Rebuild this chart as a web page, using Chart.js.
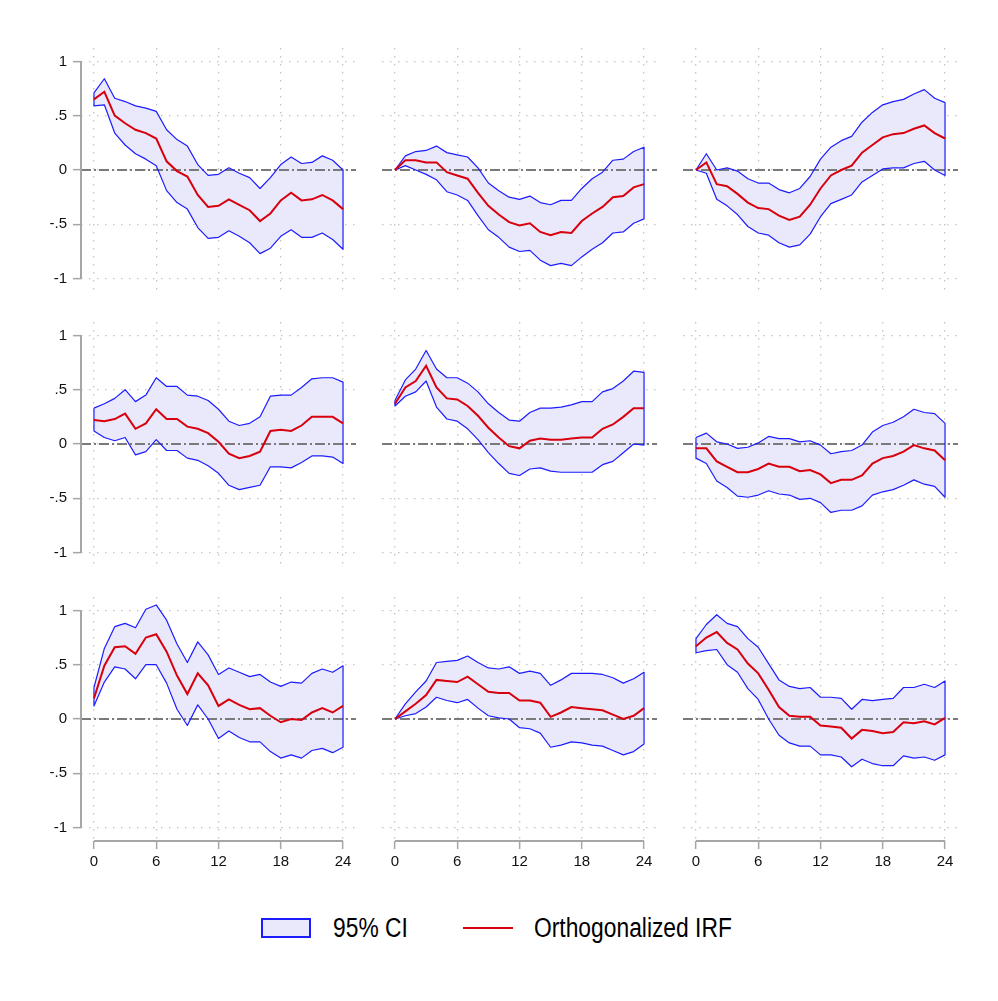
<!DOCTYPE html>
<html><head><meta charset="utf-8">
<script src="https://cdn.jsdelivr.net/npm/chart.js@4.4.1/dist/chart.umd.min.js"></script>
<style>
html,body{margin:0;padding:0;background:#fff;}
body{width:998px;height:1001px;position:relative;overflow:hidden;}
canvas{position:absolute;}
.leg{position:absolute;font-family:'Liberation Sans Narrow','Arial Narrow','Liberation Sans',Arial,sans-serif;font-size:27px;color:#000;line-height:30px;white-space:nowrap;transform:scaleX(0.845);transform-origin:0 50%;}
</style></head><body>
<div id="wrap"></div>
<div style="position:absolute;left:261px;top:918px;width:50px;height:20px;box-sizing:border-box;border:2px solid #1c1cff;background:#e9e9fb;"></div>
<div class="leg" style="left:333px;top:913px;">95% CI</div>
<div style="position:absolute;left:463px;top:927px;width:50px;height:2px;background:#d8000c;"></div>
<div class="leg" style="left:534px;top:913px;">Orthogonalized IRF</div>
<script>
const steps = [0,1,2,3,4,5,6,7,8,9,10,11,12,13,14,15,16,17,18,19,20,21,22,23,24];
const yTicks = [-1,-0.5,0,0.5,1];
const yTickLabels = ['-1','-.5','0','.5','1'];
const xTicks = [0,6,12,18,24];
const xTickLabels = ['0','6','12','18','24'];

// row 1
const irf11 = [0.65,0.72,0.50,0.43,0.37,0.34,0.29,0.08,-0.01,-0.06,-0.23,-0.34,-0.33,-0.27,-0.32,-0.37,-0.47,-0.40,-0.28,-0.21,-0.28,-0.27,-0.23,-0.28,-0.36];
const hi11 = [0.71,0.84,0.66,0.63,0.59,0.57,0.54,0.37,0.28,0.22,0.05,-0.05,-0.04,0.02,-0.03,-0.07,-0.17,-0.07,0.05,0.12,0.06,0.07,0.13,0.09,0.00];
const lo11 = [0.59,0.60,0.34,0.23,0.15,0.10,0.04,-0.19,-0.30,-0.36,-0.53,-0.63,-0.62,-0.56,-0.61,-0.67,-0.77,-0.72,-0.61,-0.55,-0.62,-0.62,-0.58,-0.64,-0.73];

const irf12 = [0,0.09,0.09,0.07,0.07,-0.02,-0.05,-0.08,-0.21,-0.33,-0.41,-0.48,-0.51,-0.49,-0.57,-0.60,-0.57,-0.58,-0.47,-0.40,-0.34,-0.25,-0.24,-0.16,-0.13];
const hi12 = [0,0.13,0.17,0.18,0.22,0.16,0.14,0.12,0.02,-0.12,-0.19,-0.25,-0.27,-0.24,-0.30,-0.32,-0.28,-0.28,-0.17,-0.08,-0.02,0.09,0.10,0.17,0.21];
const lo12 = [0,0.04,0.00,-0.04,-0.09,-0.20,-0.23,-0.28,-0.42,-0.55,-0.62,-0.71,-0.75,-0.74,-0.83,-0.88,-0.86,-0.88,-0.80,-0.73,-0.67,-0.58,-0.57,-0.49,-0.45];

const irf13 = [0,0.07,-0.13,-0.15,-0.22,-0.30,-0.35,-0.36,-0.42,-0.46,-0.43,-0.32,-0.17,-0.05,0.00,0.04,0.16,0.23,0.30,0.33,0.34,0.38,0.41,0.34,0.29];
const hi13 = [0,0.15,0.00,0.02,-0.01,-0.08,-0.12,-0.12,-0.18,-0.21,-0.17,-0.06,0.10,0.21,0.27,0.31,0.44,0.53,0.60,0.63,0.65,0.70,0.74,0.66,0.62];
const lo13 = [0,-0.03,-0.27,-0.33,-0.41,-0.52,-0.58,-0.60,-0.67,-0.71,-0.69,-0.59,-0.43,-0.31,-0.27,-0.23,-0.11,-0.05,0.01,0.02,0.02,0.06,0.08,0.00,-0.05];

// row 2
const irf21 = [0.22,0.21,0.23,0.28,0.14,0.19,0.32,0.23,0.23,0.16,0.14,0.10,0.02,-0.09,-0.13,-0.11,-0.07,0.12,0.13,0.12,0.17,0.25,0.25,0.25,0.19];
const hi21 = [0.33,0.37,0.42,0.50,0.39,0.45,0.61,0.53,0.53,0.45,0.44,0.40,0.32,0.21,0.17,0.19,0.25,0.44,0.45,0.45,0.52,0.60,0.61,0.61,0.57];
const lo21 = [0.12,0.06,0.03,0.06,-0.10,-0.07,0.04,-0.06,-0.06,-0.13,-0.15,-0.20,-0.27,-0.38,-0.42,-0.40,-0.38,-0.21,-0.21,-0.22,-0.17,-0.11,-0.11,-0.12,-0.18];

const irf22 = [0.37,0.52,0.58,0.72,0.52,0.42,0.41,0.35,0.26,0.15,0.06,-0.02,-0.04,0.03,0.05,0.04,0.04,0.05,0.06,0.06,0.14,0.18,0.25,0.33,0.33];
const hi22 = [0.40,0.59,0.69,0.86,0.69,0.61,0.61,0.56,0.48,0.37,0.29,0.22,0.21,0.29,0.33,0.33,0.34,0.36,0.39,0.39,0.48,0.51,0.58,0.67,0.66];
const lo22 = [0.35,0.44,0.48,0.58,0.34,0.23,0.21,0.14,0.04,-0.08,-0.18,-0.27,-0.29,-0.23,-0.22,-0.25,-0.26,-0.26,-0.26,-0.26,-0.19,-0.16,-0.08,0.00,-0.01];

const irf23 = [-0.04,-0.04,-0.16,-0.21,-0.26,-0.26,-0.23,-0.18,-0.21,-0.21,-0.25,-0.24,-0.28,-0.36,-0.33,-0.33,-0.29,-0.18,-0.13,-0.11,-0.07,-0.01,-0.04,-0.06,-0.15];
const hi23 = [0.06,0.10,0.02,0.00,-0.04,-0.03,0.01,0.07,0.05,0.05,0.02,0.03,-0.01,-0.09,-0.07,-0.06,-0.01,0.11,0.17,0.20,0.25,0.32,0.29,0.28,0.19];
const lo23 = [-0.13,-0.18,-0.34,-0.40,-0.48,-0.49,-0.47,-0.43,-0.46,-0.47,-0.51,-0.50,-0.54,-0.63,-0.61,-0.61,-0.57,-0.47,-0.44,-0.42,-0.38,-0.33,-0.37,-0.39,-0.49];

// row 3
const irf31 = [0.19,0.49,0.66,0.67,0.60,0.75,0.78,0.62,0.40,0.23,0.42,0.31,0.12,0.18,0.13,0.09,0.10,0.03,-0.03,0.00,-0.01,0.06,0.10,0.06,0.12];
const hi31 = [0.29,0.65,0.85,0.88,0.84,1.01,1.05,0.91,0.69,0.52,0.71,0.59,0.41,0.47,0.43,0.39,0.41,0.34,0.30,0.34,0.33,0.42,0.46,0.43,0.49];
const lo31 = [0.12,0.34,0.48,0.46,0.37,0.50,0.50,0.33,0.09,-0.06,0.13,0.00,-0.18,-0.11,-0.17,-0.21,-0.21,-0.30,-0.36,-0.33,-0.36,-0.29,-0.27,-0.31,-0.26];

const irf32 = [0,0.07,0.14,0.22,0.36,0.35,0.34,0.39,0.32,0.25,0.24,0.24,0.17,0.17,0.15,0.02,0.06,0.11,0.10,0.09,0.08,0.04,0.00,0.03,0.10];
const hi32 = [0,0.14,0.25,0.35,0.52,0.53,0.54,0.58,0.52,0.47,0.46,0.48,0.42,0.44,0.42,0.31,0.36,0.42,0.42,0.42,0.41,0.38,0.33,0.37,0.43];
const lo32 = [0,0.03,0.05,0.11,0.20,0.17,0.15,0.18,0.10,0.03,0.01,0.00,-0.08,-0.09,-0.13,-0.26,-0.24,-0.21,-0.22,-0.24,-0.25,-0.29,-0.33,-0.30,-0.23];

const irf33 = [0.67,0.75,0.80,0.70,0.64,0.51,0.42,0.27,0.11,0.03,0.02,0.02,-0.06,-0.07,-0.08,-0.18,-0.10,-0.11,-0.13,-0.12,-0.03,-0.04,-0.02,-0.05,0.01];
const hi33 = [0.74,0.87,0.96,0.88,0.85,0.74,0.66,0.51,0.36,0.30,0.28,0.29,0.20,0.20,0.19,0.09,0.18,0.17,0.18,0.19,0.29,0.29,0.32,0.29,0.35];
const lo33 = [0.61,0.63,0.64,0.50,0.43,0.28,0.18,0.00,-0.15,-0.22,-0.25,-0.25,-0.33,-0.33,-0.35,-0.44,-0.37,-0.41,-0.43,-0.43,-0.34,-0.36,-0.35,-0.38,-0.33];

const panels = [
  [{irf:irf11,hi:hi11,lo:lo11},{irf:irf12,hi:hi12,lo:lo12},{irf:irf13,hi:hi13,lo:lo13}],
  [{irf:irf21,hi:hi21,lo:lo21},{irf:irf22,hi:hi22,lo:lo22},{irf:irf23,hi:hi23,lo:lo23}],
  [{irf:irf31,hi:hi31,lo:lo31},{irf:irf32,hi:hi32,lo:lo32},{irf:irf33,hi:hi33,lo:lo33}]
];

const X_MIN = -1.25, X_MAX = 25.25, Y_MIN = -1.123, Y_MAX = 1.123;
const colLeft = [81, 382, 683];
const rowTop = [48, 322, 597];
const AREA_W = 275, AREA_H = 244, YAX_W = 81, XAX_H = 40;

const BLUE = '#1c1cff', RED = '#d8000c', FILL = '#e9e9fb', AXIS = '#a6a6a6', GRID = '#c4c4c4', ZERO = '#7a7a7a';
const FONT = "'Liberation Sans Narrow','Arial Narrow','Liberation Sans',Arial,sans-serif";

const axisLines = {
  id: 'axisLines',
  afterDraw(chart, args, opts) {
    const ctx = chart.ctx, xs = chart.scales.x, ys = chart.scales.y, a = chart.chartArea;
    ctx.save();
    ctx.strokeStyle = AXIS; ctx.lineWidth = 2; ctx.setLineDash([]);
    if (opts.showY) {
      ctx.beginPath();
      ctx.moveTo(a.left, ys.getPixelForValue(yTicks[yTicks.length-1]));
      ctx.lineTo(a.left, ys.getPixelForValue(yTicks[0]));
      ctx.stroke();
    }
    if (opts.showX) {
      ctx.beginPath();
      ctx.moveTo(xs.getPixelForValue(xTicks[0]), a.bottom);
      ctx.lineTo(xs.getPixelForValue(xTicks[xTicks.length-1]), a.bottom);
      ctx.stroke();
    }
    ctx.restore();
  }
};

const noPad = s => { s.paddingLeft = 0; s.paddingRight = 0; s.paddingTop = 0; s.paddingBottom = 0; };

for (let r = 0; r < 3; r++) {
  for (let c = 0; c < 3; c++) {
    const p = panels[r][c];
    const showY = c === 0, showX = r === 2;
    const cv = document.createElement('canvas');
    const w = AREA_W + (showY ? YAX_W : 0);
    const h = AREA_H + (showX ? XAX_H : 0);
    cv.width = w; cv.height = h;
    cv.style.width = w + 'px'; cv.style.height = h + 'px';
    cv.style.left = (colLeft[c] - (showY ? YAX_W : 0)) + 'px';
    cv.style.top = rowTop[r] + 'px';
    document.getElementById('wrap').appendChild(cv);

    const pts = arr => arr.map((v, i) => ({x: steps[i], y: v}));
    const outline = pts(p.hi).concat(pts(p.lo).reverse());
    outline.push(outline[0]);

    new Chart(cv, {
      type: 'line',
      data: {
        datasets: [
          {data: pts(p.irf), borderColor: RED, borderWidth: 2, pointRadius: 0, fill: false, tension: 0},
          {data: outline, borderColor: BLUE, borderWidth: 1.2, pointRadius: 0, fill: false, tension: 0, borderJoinStyle: 'round'},
          {data: [{x: X_MIN, y: 0}, {x: X_MAX, y: 0}], borderColor: ZERO, borderWidth: 1.8, borderDash: [10, 3, 2, 3], pointRadius: 0, fill: false},
          {data: pts(p.hi), borderWidth: 0, borderColor: 'rgba(0,0,0,0)', backgroundColor: FILL, pointRadius: 0, fill: '+1', tension: 0},
          {data: pts(p.lo), borderWidth: 0, borderColor: 'rgba(0,0,0,0)', pointRadius: 0, fill: false, tension: 0}
        ]
      },
      options: {
        responsive: false, animation: false, devicePixelRatio: 1,
        layout: {padding: 0},
        plugins: {legend: {display: false}, tooltip: {enabled: false}, axisLines: {showX, showY}},
        scales: {
          x: {
            type: 'linear', min: X_MIN, max: X_MAX,
            afterBuildTicks: s => { s.ticks = xTicks.map(v => ({value: v})); },
            afterFit: s => { s.height = showX ? XAX_H : 0; noPad(s); },
            ticks: {display: showX, padding: 4, color: '#111', font: {family: FONT, size: 15},
                    callback: (v, i) => xTickLabels[i], maxRotation: 0, minRotation: 0, autoSkip: false},
            grid: {color: GRID, lineWidth: 1.3, drawTicks: showX, tickLength: 8, tickColor: AXIS, tickWidth: 1.5, tickBorderDash: []},
            border: {display: false, dash: [1.5, 6.5]}
          },
          y: {
            type: 'linear', min: Y_MIN, max: Y_MAX,
            afterBuildTicks: s => { s.ticks = yTicks.map(v => ({value: v})); },
            afterFit: s => { s.width = showY ? YAX_W : 0; noPad(s); },
            ticks: {display: showY, padding: 6, color: '#111', font: {family: FONT, size: 15},
                    callback: (v, i) => yTickLabels[i], autoSkip: false},
            grid: {color: GRID, lineWidth: 1.3, drawTicks: showY, tickLength: 8, tickColor: AXIS, tickWidth: 1.5, tickBorderDash: []},
            border: {display: false, dash: [1.5, 6.5]}
          }
        }
      },
      plugins: [axisLines]
    });
  }
}
</script>
</body></html>
